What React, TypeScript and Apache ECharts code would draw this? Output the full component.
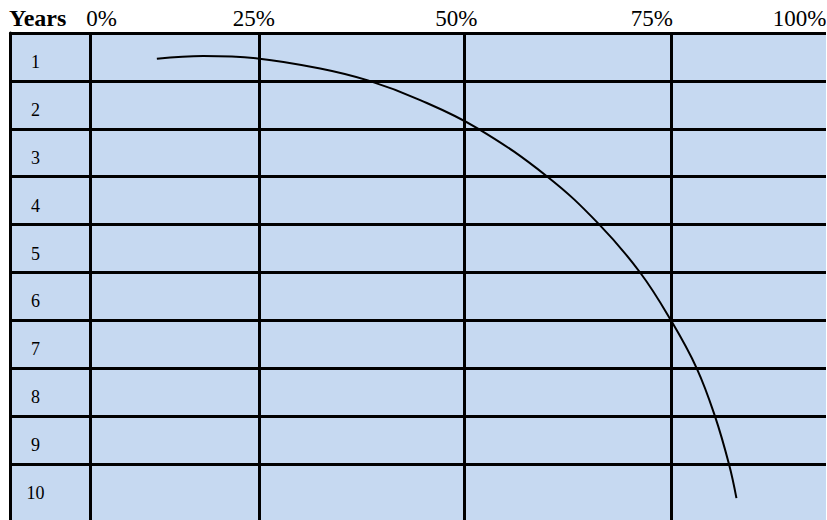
import { useEffect, useRef } from 'react';
import * as echarts from 'echarts';

// Row categories (years) and header labels
const years = ['1', '2', '3', '4', '5', '6', '7', '8', '9', '10'];
const headerLabels = ['0%', '25%', '50%', '75%', '100%'];
// axis values (in share units) where the header labels sit
const headerLabelAt = [1.5, 22.2, 49.7, 76.3, 96.4];
// axis values of the column dividers of the table
const columnEdges = [0, 22.9, 50.8, 78.9];

// Curve: share (x) against year position (y)
const curveShare = [9.0, 15.3, 22.7, 31.2, 37.7, 44.8, 52.6, 62.1, 69.1, 74.7, 78.9, 82.4, 84.9, 86.8, 87.8];
const curveYear = [1.04, 0.98, 1.03, 1.24, 1.49, 1.9, 2.49, 3.5, 4.49, 5.5, 6.5, 7.5, 8.51, 9.51, 10.21];

const FONT = '"Liberation Serif", "Times New Roman", serif';

export default function App() {
  const ref = useRef<HTMLDivElement>(null);
  useEffect(() => {
    if (!ref.current) return;
    const chart = echarts.init(ref.current, null, { renderer: 'svg' });
    const yearNums = years.map(Number);
    const rowEdges = yearNums.slice(0, -1).map((v) => v + 0.5);
    const xMin = -10.9;
    const xMax = 110;
    const pxPerShare = 7.355;
    const pxPerYear = 47.9;
    const yMin = 0.5;
    const yMax = 11;
    const nearest = (arr: number[], v: number) => {
      let best = 0;
      for (let i = 1; i < arr.length; i++) {
        if (Math.abs(arr[i] - v) < Math.abs(arr[best] - v)) best = i;
      }
      return best;
    };
    chart.setOption({
      animation: false,
      backgroundColor: '#ffffff',
      title: {
        text: 'Years',
        left: 9,
        top: 6,
        padding: 0,
        textStyle: { fontFamily: FONT, fontSize: 24, fontWeight: 'bold', color: '#000' },
      },
      grid: {
        left: 10.5,
        top: 33,
        width: (xMax - xMin) * pxPerShare,
        height: (yMax - yMin) * pxPerYear,
        show: true,
        backgroundColor: '#C6D9F1',
        borderWidth: 0,
        containLabel: false,
        outerBoundsMode: 'none',
      },
      xAxis: {
        type: 'value',
        position: 'top',
        min: xMin,
        max: xMax,
        axisLine: { show: true, onZero: false, lineStyle: { color: '#000', width: 3 } },
        axisTick: { show: false, customValues: columnEdges },
        splitLine: { show: true, lineStyle: { color: '#000', width: 3 } },
        axisLabel: {
          customValues: headerLabelAt,
          formatter: (v: number) => headerLabels[nearest(headerLabelAt, v)],
          fontFamily: FONT,
          fontSize: 23,
          color: '#000',
          margin: 3,
          align: 'center',
        },
      },
      yAxis: {
        type: 'value',
        inverse: true,
        min: yMin,
        max: yMax,
        axisLine: { show: true, onZero: false, lineStyle: { color: '#000', width: 3 } },
        axisTick: { show: false, customValues: rowEdges },
        splitLine: { show: true, lineStyle: { color: '#000', width: 3 } },
        axisLabel: {
          customValues: yearNums,
          formatter: (v: number) => years[nearest(yearNums, v)],
          inside: true,
          align: 'center',
          verticalAlign: 'top',
          lineHeight: 10,
          margin: 25,
          fontFamily: FONT,
          fontSize: 18,
          color: '#000',
        },
      },
      series: [
        {
          type: 'line',
          data: curveShare.map((x, i) => [x, curveYear[i]]),
          showSymbol: false,
          symbol: 'none',
          smooth: 0.4,
          lineStyle: { color: '#000', width: 2 },
          z: 5,
        },
      ],
    });
    return () => chart.dispose();
  }, []);
  return (
    <div
      style={{
        position: 'fixed',
        left: 0,
        top: 0,
        width: 826,
        height: 520,
        overflow: 'hidden',
        background: '#fff',
      }}
    >
      <div ref={ref} style={{ width: 920, height: 560 }} />
    </div>
  );
}
